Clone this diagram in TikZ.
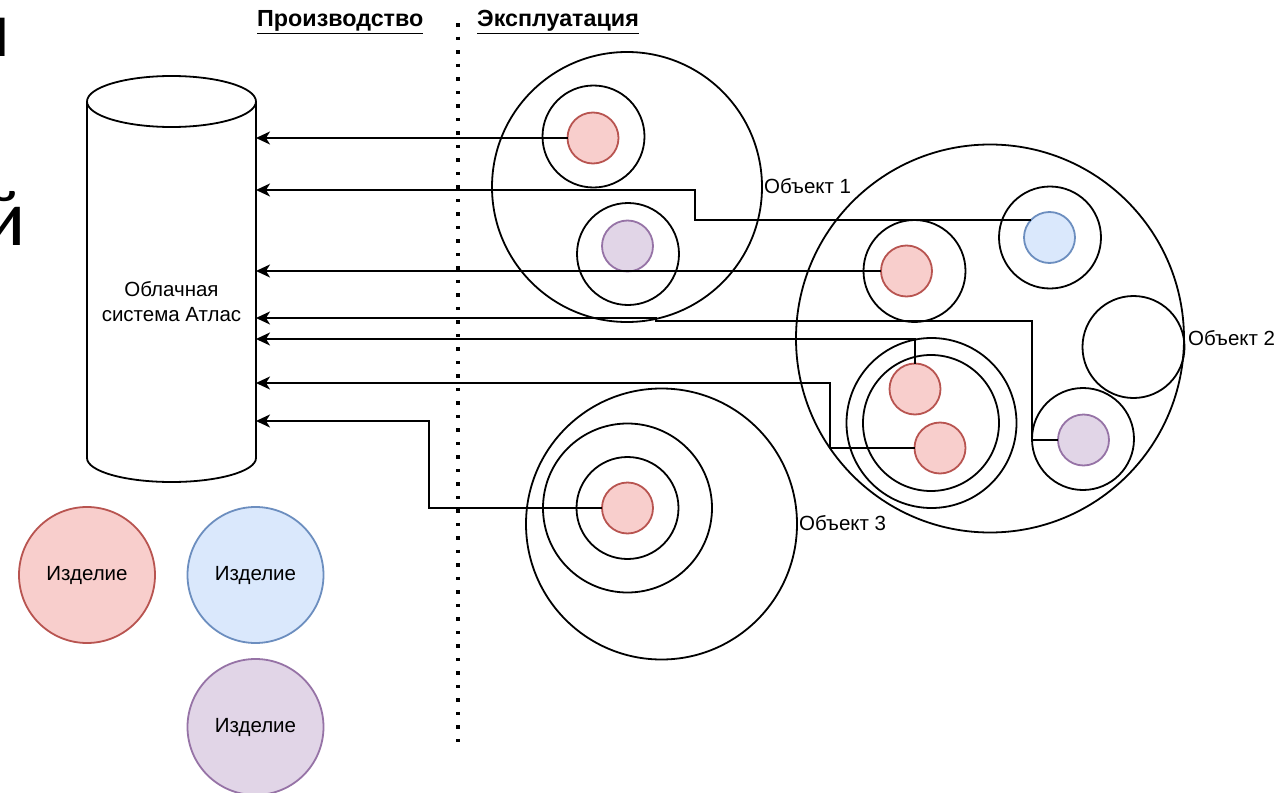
\documentclass[tikz,border=0pt]{standalone}
\usepackage{fontspec}
\setmainfont{Liberation Sans}
\newfontfamily\bigfont{Carlito}
\usetikzlibrary{arrows.meta}
\definecolor{redfill}{HTML}{F8CECC}
\definecolor{redline}{HTML}{B85450}
\definecolor{bluefill}{HTML}{DAE8FC}
\definecolor{blueline}{HTML}{6C8EBF}
\definecolor{purpfill}{HTML}{E1D5E7}
\definecolor{purpline}{HTML}{9673A6}
\tikzset{
  lw/.style={line width=1.8bp},
  ring/.style={circle, draw, lw, inner sep=0pt, outer sep=0pt, minimum size=#1},
  reddot/.style={circle, draw=redline, fill=redfill, lw, inner sep=0pt, outer sep=0pt, minimum size=#1},
  bluedot/.style={circle, draw=blueline, fill=bluefill, lw, inner sep=0pt, outer sep=0pt, minimum size=#1},
  purpdot/.style={circle, draw=purpline, fill=purpfill, lw, inner sep=0pt, outer sep=0pt, minimum size=#1},
  arr/.style={lw, -{Stealth[length=14bp,width=13bp,inset=4bp]}},
  lbl/.style={font=\fontsize{20.5bp}{25bp}\selectfont, inner sep=0pt},
  hdr/.style={font=\fontsize{23.3bp}{27bp}\selectfont\bfseries, inner sep=0pt, anchor=base west},
  big/.style={font=\bigfont\fontsize{80bp}{90bp}\selectfont, inner sep=0pt, anchor=base east}
}
\begin{document}
\begin{tikzpicture}[x=1bp,y=-1bp]
\useasboundingbox (0,0) rectangle (1286,793);
\fill[white] (0,0) rectangle (1286,793);

% cut-off large letters
\node[big] (bigm) at (11,57) {м};
\node[big] (bigj) at (26,245) {й};

% headers
\node[hdr] (hprod) at (257,27) {\underline{Производство}};
\node[hdr] (hexpl) at (477,27) {\underline{Эксплуатация}};
\draw[line width=3.5bp, dash pattern=on 3.5bp off 10bp] (458,23.25) -- (458,746);

% cylinder
\node[minimum width=169bp, minimum height=356.5bp, inner sep=0pt, outer sep=0pt] (cloud) at (171.5,279.75) {};
\draw[lw] (87,101.5) -- (87,458) arc[start angle=180, end angle=0, x radius=84.5, y radius=24] -- (256,101.5);
\draw[lw] (171.5,101.5) ellipse [x radius=84.5, y radius=25.5];
\node[lbl, align=center] (cloudtxt) at (171.5,302) {Облачная\\система Атлас};

% Object 1
\node[ring=270bp] (O1) at (627,187) {};
\node[ring=102bp] (O1a) at (593.5,136.5) {};
\node[reddot=51bp] (d1a) at (593,138) {};
\node[ring=102bp] (O1b) at (628,254) {};
\node[purpdot=51bp] (d1b) at (627.5,246) {};
\node[lbl, anchor=west] (t1) at (764,186) {Объект 1};

% Object 2
\node[ring=388bp] (O2) at (990,338.5) {};
\node[ring=102bp] (O2a) at (914.5,271) {};
\node[reddot=51bp] (d2a) at (906.5,271) {};
\node[ring=102bp] (O2e) at (1050,237.5) {};
\node[bluedot=51bp] (d2e) at (1049.5,237.5) {};
\node[ring=102bp] (O2c) at (1133.5,347) {};
\node[ring=102bp] (O2d) at (1083,439) {};
\node[purpdot=51bp] (d2d) at (1083.5,440) {};
\node[ring=170bp] (O2b) at (931.5,423) {};
\node[ring=136bp] (O2bi) at (931,423) {};
\node[reddot=51bp] (d2b1) at (915,389) {};
\node[reddot=51bp] (d2b2) at (940,448) {};
\node[lbl, anchor=west] (t2) at (1188,338) {Объект 2};

% Object 3
\node[ring=271bp] (O3) at (661.5,524) {};
\node[ring=169bp] (O3m) at (627.5,508) {};
\node[ring=102bp] (O3i) at (627.5,508) {};
\node[reddot=51bp] (d3) at (627.5,508) {};
\node[lbl, anchor=west] (t3) at (799,523) {Объект 3};

% legend
\node[reddot=136bp, lbl] (L1) at (87,575) {Изделие};
\node[bluedot=136bp, lbl] (L2) at (255.5,575) {Изделие};
\node[purpdot=136bp, lbl] (L3) at (255.5,727) {Изделие};

% connector bends
\coordinate (b2) at (695,190);
\coordinate (b4a) at (1032,321);
\coordinate (b4b) at (656,318);
\coordinate (b5) at (0,339);
\coordinate (b6) at (830,383);
\coordinate (b7) at (429,421);

% connectors
\draw[arr] (d1a.west) -- (d1a.west -| cloud.east);
\draw[arr] (d2e.136.6) -| (b2) -- (b2 -| cloud.east);
\draw[arr] (d2a.west) -- (d2a.west -| cloud.east);
\draw[arr] (d2d.west) -| (b4a) -| (b4b) -- (b4b -| cloud.east);
\draw[arr] (d2b1.north) -- (d2b1.north |- b5) -- (b5 -| cloud.east);
\draw[arr] (d2b2.west) -| (b6) -- (b6 -| cloud.east);
\draw[arr] (d3.west) -| (b7) -- (b7 -| cloud.east);
\end{tikzpicture}
\end{document}
